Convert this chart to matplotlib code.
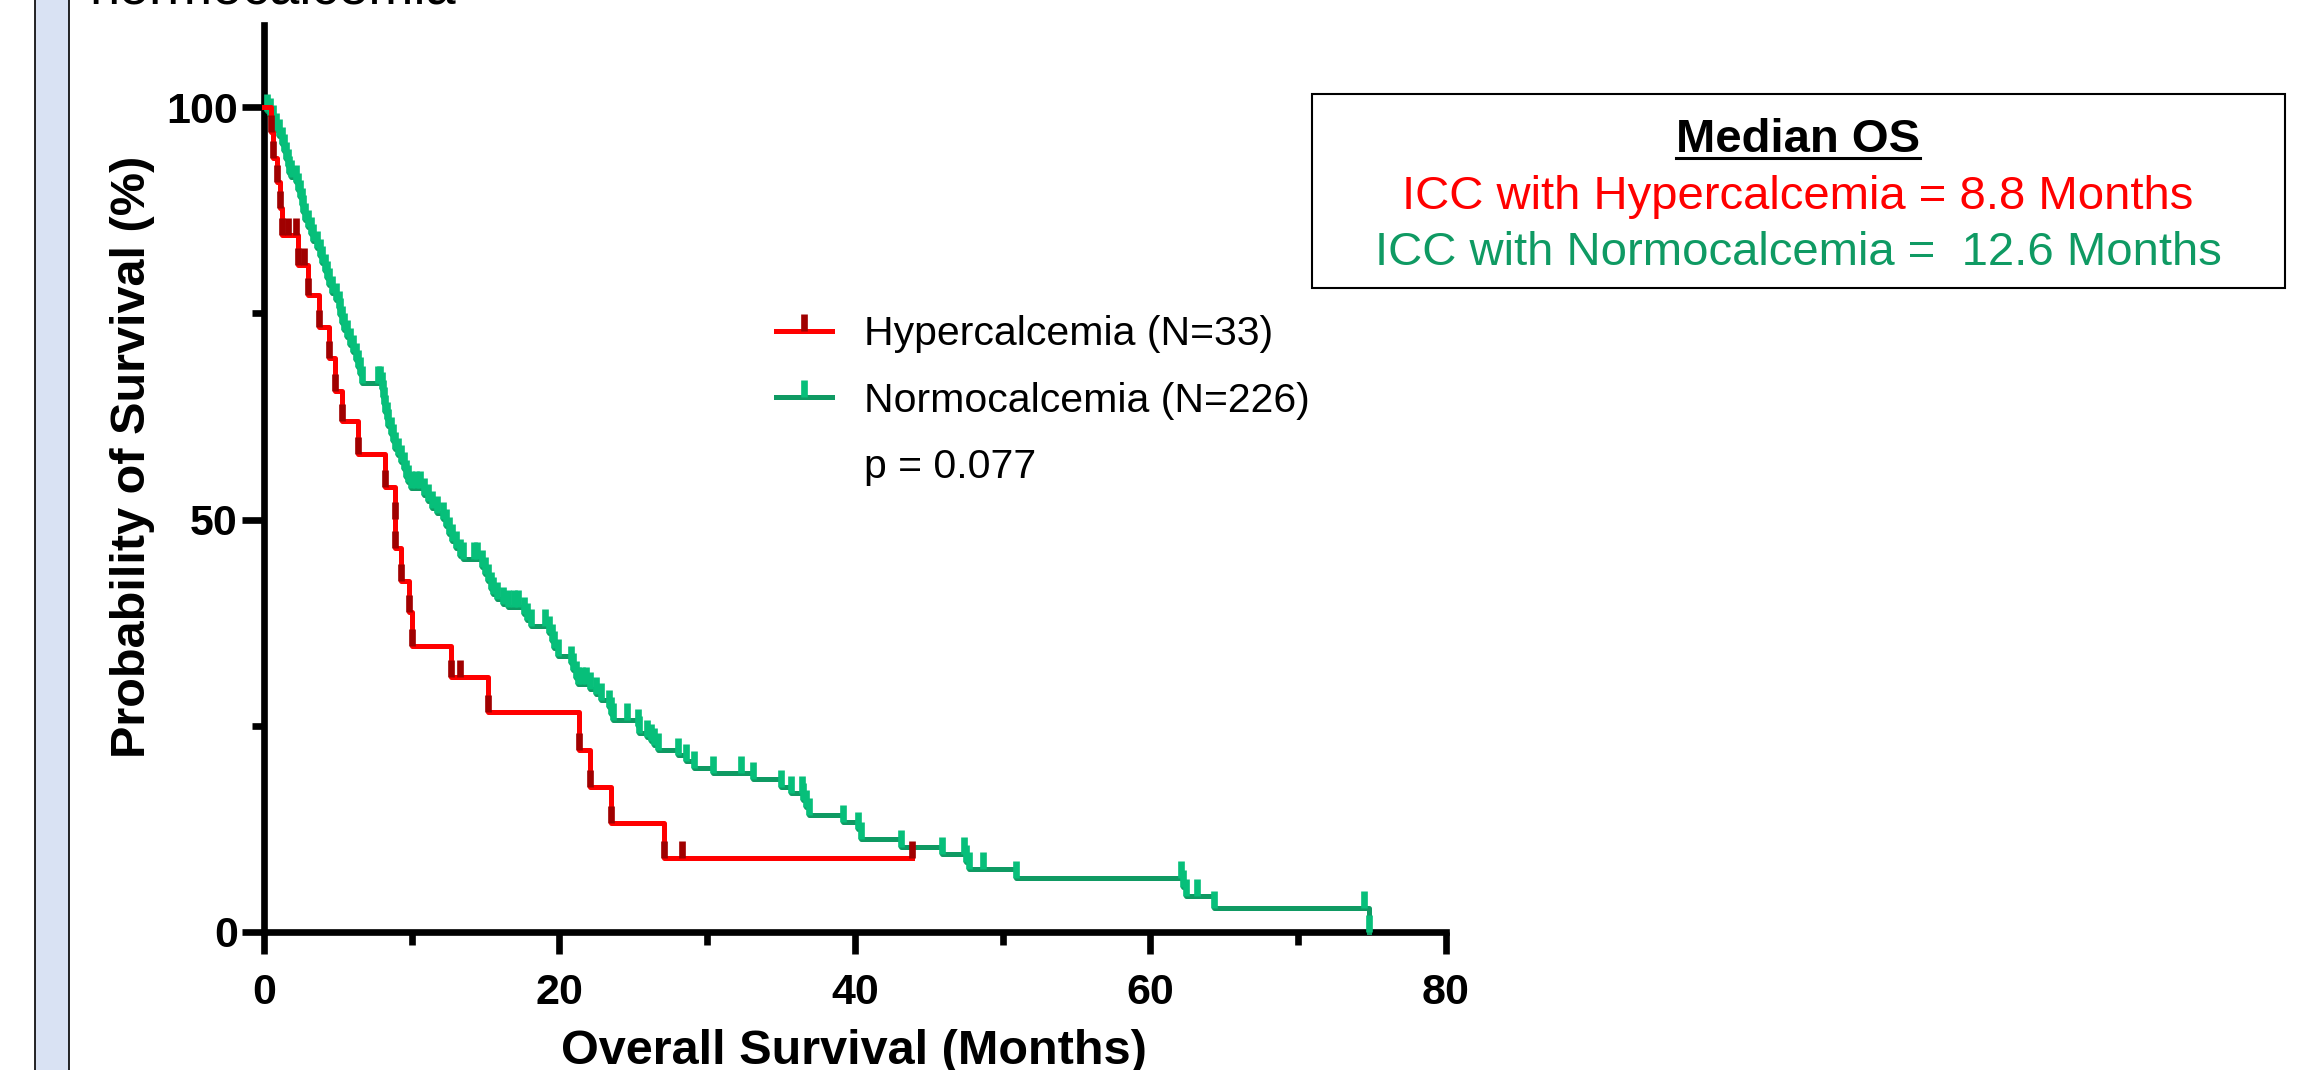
import matplotlib
matplotlib.use('Agg')
from matplotlib import pyplot as plt
from matplotlib.patches import Rectangle
from matplotlib.lines import Line2D
import numpy as np

# Kaplan-Meier steps: time (months) of each drop and survival (%) after it
hyper_time = [0, 0.45, 0.63, 0.85, 1.05, 1.2, 2.3, 3.0, 3.72, 4.38, 4.81, 5.28, 6.35,
              8.2, 8.85, 8.9, 9.25, 9.8, 10.05, 12.65, 15.15, 21.35, 22.1, 23.5, 27.05]
hyper_surv = [100, 97.0, 93.9, 90.9, 87.8, 84.5, 80.9, 77.2, 73.4, 69.6, 65.6, 61.9, 58.0,
              54.0, 50.1, 46.5, 42.6, 38.8, 34.7, 30.9, 26.6, 22.1, 17.6, 13.2, 9.0]
hyper_censor = [1.6, 2.17, 2.7, 13.3, 28.3, 43.85]

normo_time = [0, 0.2, 0.4, 0.6, 0.8, 1.0, 1.2, 1.35, 1.5, 1.6, 1.7, 1.8, 2.2, 2.3, 2.45, 2.55,
              2.65, 2.75, 2.95, 3.2, 3.35, 3.6, 3.8, 3.95, 4.1, 4.25, 4.4, 4.6, 4.85, 5.05, 5.15,
              5.3, 5.45, 5.6, 5.8, 6.0, 6.2, 6.35, 6.5, 6.65, 8.0, 8.05, 8.1, 8.2, 8.3, 8.4, 8.6,
              8.75, 8.9, 9.1, 9.3, 9.45, 9.6, 9.75, 9.95, 10.85, 11.1, 11.4, 11.7, 12.1, 12.3,
              12.5, 12.7, 13.0, 13.3, 13.45, 14.75, 14.95, 15.15, 15.35, 15.5, 15.8, 16.2, 16.5,
              17.6, 17.8, 18.1, 19.3, 19.5, 19.65, 19.9, 20.8, 20.95, 21.1, 21.25, 22.1, 22.5,
              22.8, 23.35, 23.5, 23.65, 25.3, 25.4, 25.95, 26.2, 26.4, 26.65, 28.0, 28.55, 29.1,
              30.4, 33.1, 35.0, 35.7, 36.5, 36.7, 36.9, 39.2, 40.2, 40.4, 43.1, 45.9, 47.5, 47.7,
              50.9, 62.2, 62.4, 64.3, 74.8]
normo_surv = [100, 99.6, 99.1, 98.2, 97.3, 96.5, 95.6, 94.7, 93.8, 92.9, 92.0, 91.5, 90.9, 90.0,
              89.1, 88.2, 87.3, 86.4, 85.5, 84.6, 83.8, 82.9, 82.0, 81.1, 80.2, 79.3, 78.4, 77.5,
              76.6, 75.7, 74.8, 73.9, 73.0, 72.1, 71.2, 70.3, 69.4, 68.5, 67.6, 66.6, 65.8, 64.9,
              64.0, 63.1, 62.2, 61.3, 60.4, 59.5, 58.6, 57.8, 57.0, 56.1, 55.2, 54.6, 53.8, 53.0,
              52.2, 51.4, 50.8, 50.1, 49.2, 48.3, 47.4, 46.5, 45.6, 45.2, 44.3, 43.4, 42.5, 41.6,
              41.0, 40.4, 39.8, 39.4, 38.5, 37.8, 37.1, 36.2, 35.3, 34.4, 33.5, 32.6, 31.7, 30.8,
              30.0, 29.4, 28.8, 28.1, 27.2, 26.4, 25.7, 24.9, 24.1, 23.6, 23.1, 22.6, 22.1, 21.4,
              20.7, 19.9, 19.3, 18.5, 17.6, 16.8, 16.0, 15.1, 14.2, 13.3, 12.4, 11.3, 10.3, 9.46,
              8.5, 7.6, 6.5, 5.4, 4.35, 2.85, 0]
normo_censor = [7.7, 7.85, 10.3, 10.55, 14.2, 14.45, 16.9, 17.2, 19.05, 21.55, 21.8, 24.6,
                32.3, 36.4, 47.4, 48.7, 62.1, 63.2, 74.5]

x_major = [0, 20, 40, 60, 80]
x_minor = [10, 30, 50, 70]
y_major = [0, 50, 100]
y_minor = [25, 75]

legend_labels = ['Hypercalcemia (N=33)', 'Normocalcemia (N=226)', 'p = 0.077']
median_title = 'Median OS'
median_hyper = 'ICC with Hypercalcemia = 8.8 Months'
median_normo = 'ICC with Normocalcemia =  12.6 Months'

RED = '#FF0000'
RED_TICK = '#A00000'
GREEN = '#0F9A63'
GREEN_TICK = '#07BF7A'
LW = 3.6
TICK_MS = 12
TICK_MEW = 4.8

W, H = 2324, 1070
plt.rcParams['font.family'] = ['Liberation Sans', 'DejaVu Sans']

fig = plt.figure(figsize=(W / 100, H / 100), dpi=100)
ax = fig.add_axes([264 / W, (H - 931.7) / H, 1181.6 / W, (931.7 - 25) / H])


def level_at(times, surv, t):
    idx = np.searchsorted(times, t, side='right') - 1
    return np.asarray(surv)[idx]


def km_curve(times, surv, censor, color, tick_color, z):
    end = max(times[-1], max(censor))
    xs = list(times) + [end]
    ys = list(surv) + [surv[-1]]
    ax.step(xs, ys, where='post', color=color, lw=LW, zorder=z, clip_on=False)
    # tick symbol at every row of the survival table
    ax.plot(times[1:], surv[1:], ls='none', marker=2, ms=TICK_MS, mew=TICK_MEW,
            color=tick_color, zorder=z + 0.5, clip_on=False)
    ax.plot(censor, level_at(times, surv, censor), ls='none', marker=2, ms=TICK_MS,
            mew=TICK_MEW, color=tick_color, zorder=z + 0.5, clip_on=False)


km_curve(normo_time, normo_surv, normo_censor, GREEN, GREEN_TICK, 3)
km_curve(hyper_time, hyper_surv, hyper_censor, RED, RED_TICK, 5)

ax.set_xlim(0, 80)
ax.set_ylim(0, 110)
ax.set_xticks(x_major)
ax.set_xticks(x_minor, minor=True)
ax.set_yticks(y_major)
ax.set_yticks(y_minor, minor=True)
for side in ['top', 'right']:
    ax.spines[side].set_visible(False)
for side in ['left', 'bottom']:
    ax.spines[side].set_linewidth(4.8)
ax.tick_params(which='major', length=15.8, width=4.8, labelsize=31)
ax.tick_params(which='minor', length=9, width=4.8)
ax.tick_params(axis='x', which='major', pad=14)
ax.tick_params(axis='y', which='major', pad=3)
for lbl in ax.get_xticklabels() + ax.get_yticklabels():
    lbl.set_fontweight('bold')

fig.text(133 / W, 1 - 457 / H, 'Probability of Survival (%)', rotation=90, fontsize=35,
         fontweight='bold', ha='center', va='center')
fig.text(854 / W, 6 / H, 'Overall Survival (Months)', fontsize=35, fontweight='bold',
         ha='center', va='baseline')

# cut-off slide title and side panel
fig.text(89 / W, 1 - 4 / H, 'normocalcemia', fontsize=39, ha='left', va='baseline')
fig.add_artist(Rectangle((35 / W, -0.05), 34 / W, 1.1, transform=fig.transFigure,
                         fc='#D9E2F3', ec='black', lw=1.2))

handles = [
    Line2D([], [], color=RED, lw=LW, marker=2, ms=TICK_MS, mew=TICK_MEW, mec=RED_TICK),
    Line2D([], [], color=GREEN, lw=LW, marker=2, ms=TICK_MS, mew=TICK_MEW, mec=GREEN_TICK),
    Line2D([], [], color='none'),
]
ax.legend(handles, legend_labels, loc='upper left', bbox_to_anchor=(776 / W, 1 - 315 / H),
          bbox_transform=fig.transFigure, frameon=False, fontsize=29.5, handlelength=1.37,
          handletextpad=0.78, labelspacing=0.7, borderpad=0, borderaxespad=0, numpoints=1)

# Median OS box
fig.add_artist(Rectangle((1312 / W, 1 - 288 / H), (2285 - 1312) / W, (288 - 94) / H,
                         transform=fig.transFigure, fill=False, ec='black', lw=1.5))
cx = 1798 / W
t_title = fig.text(cx, 1 - 152 / H, median_title, fontsize=34, fontweight='bold',
                   ha='center', va='baseline')
fig.text(cx, 1 - 209 / H, median_hyper, fontsize=34, color=RED, ha='center', va='baseline')
fig.text(cx, 1 - 265 / H, median_normo, fontsize=34, color=GREEN, ha='center', va='baseline')

fig.canvas.draw()
bb = t_title.get_window_extent(fig.canvas.get_renderer())
uy = H - 158
fig.add_artist(Line2D([bb.x0, bb.x1], [uy, uy], transform=None, color='black', lw=2.2))

fig.savefig('out.png', dpi=100)
